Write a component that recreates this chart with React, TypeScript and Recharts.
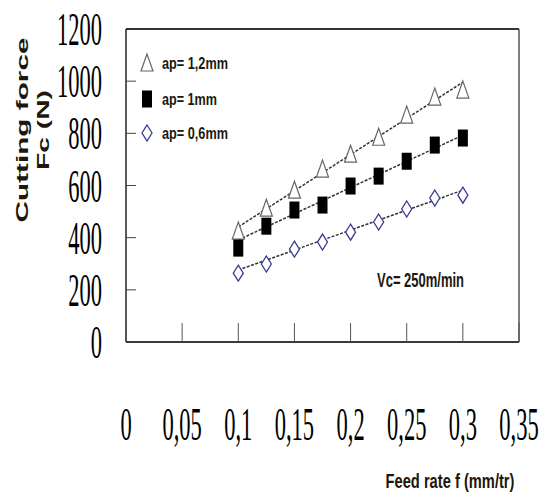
import React from 'react';
import { ComposedChart, XAxis, YAxis, Scatter, Line, ReferenceLine } from 'recharts';

const feeds = [0.1, 0.125, 0.15, 0.175, 0.2, 0.225, 0.25, 0.275, 0.3];
const fc12 = [425, 513, 582, 663, 720, 785, 870, 939, 966];
const fc10 = [360, 444, 506, 525, 598, 636, 693, 755, 782];
const fc06 = [264, 299, 356, 383, 421, 460, 510, 552, 563];

// dashed linear trend lines, end points
const trendFeeds = [0.1, 0.3];
const trend12 = [441, 996];
const trend10 = [391, 793];
const trend06 = [276, 582];

const xTicks = [0, 0.05, 0.1, 0.15, 0.2, 0.25, 0.3, 0.35];
const yTicks = [0, 200, 400, 600, 800, 1000, 1200];

const toRows = (xs: number[], ys: number[]) => xs.map((f, i) => ({ f, v: ys[i] }));

const SERIF = '"Liberation Serif", "Times New Roman", serif';
const SANS = '"Liberation Sans", Arial, sans-serif';
const INK = '#20170c';

const Triangle = ({ cx, cy }: any) => (
  <polygon
    points={`${cx},${cy - 9} ${cx - 6},${cy + 8} ${cx + 6},${cy + 8}`}
    fill="#fff"
    stroke="#666"
    strokeWidth={1.2}
  />
);

const Square = ({ cx, cy }: any) => <rect x={cx - 5} y={cy - 8.5} width={10} height={17} fill="#000" />;

const Diamond = ({ cx, cy }: any) => (
  <polygon
    points={`${cx},${cy - 8} ${cx + 5},${cy} ${cx},${cy + 8} ${cx - 5},${cy}`}
    fill="#fff"
    stroke="#3b3b94"
    strokeWidth={1.3}
  />
);

const XTick = ({ x, y, payload }: any) => (
  <g>
    <line x1={x} y1={y - 19} x2={x} y2={y} stroke="#555" strokeWidth={1} />
    <g transform={`translate(${x},${y + 98}) scale(1,2.1)`}>
      <text x={0} y={0} textAnchor="middle" fontFamily={SERIF} fontSize={22.5} fill="#000">
        {String(payload.value).replace('.', ',')}
      </text>
    </g>
  </g>
);

const YTick = ({ x, y, payload }: any) => (
  <g>
    {payload.value > 0 && payload.value < 1200 && (
      <line x1={x} y1={y} x2={x + 10} y2={y} stroke="#444" strokeWidth={1} />
    )}
    <g transform={`translate(${x - 24},${y + 16}) scale(1,2.1)`}>
      <text x={0} y={0} textAnchor="end" fontFamily={SERIF} fontSize={22.5} fill="#000">
        {payload.value}
      </text>
    </g>
  </g>
);

const YTitle = () => (
  <g fontFamily={SANS} fontWeight="bold" fill={INK}>
    <text
      transform="translate(28,130) rotate(-90)"
      textAnchor="middle"
      fontSize={17}
      textLength={185}
      lengthAdjust="spacingAndGlyphs"
    >
      Cutting force
    </text>
    <text
      transform="translate(49,130) rotate(-90)"
      textAnchor="middle"
      fontSize={17}
      textLength={80}
      lengthAdjust="spacingAndGlyphs"
    >
      Fc (N)
    </text>
  </g>
);

const legendItems = [
  { label: 'ap= 1,2mm', shape: Triangle, y: 63, len: 66 },
  { label: 'ap= 1mm', shape: Square, y: 99, len: 55 },
  { label: 'ap= 0,6mm', shape: Diamond, y: 133, len: 66 },
];

// legend, annotation and x-axis title drawn on top of the chart
const Overlay = () => (
  <svg
    width={548}
    height={497}
    style={{ position: 'absolute', left: 0, top: 0, pointerEvents: 'none' }}
  >
    {legendItems.map((it) => {
      const Shape = it.shape;
      return (
        <g key={it.label}>
          <Shape cx={147} cy={it.y} />
          <text
            x={162}
            y={it.y + 6}
            fontFamily={SANS}
            fontWeight="bold"
            fontSize={17}
            fill={INK}
            textLength={it.len}
            lengthAdjust="spacingAndGlyphs"
          >
            {it.label}
          </text>
        </g>
      );
    })}
    <text
      x={377}
      y={287}
      fontFamily={SANS}
      fontWeight="bold"
      fontSize={21}
      fill={INK}
      textLength={87}
      lengthAdjust="spacingAndGlyphs"
    >
      Vc= 250m/min
    </text>
    <g transform="translate(450,488) scale(0.7,1)">
      <text x={0} y={0} textAnchor="middle" fontFamily={SANS} fontWeight="bold" fontSize={21} fill={INK}>
        Feed rate f (mm/tr)
      </text>
    </g>
  </svg>
);

export default function App() {
  return (
    <div style={{ position: 'absolute', left: 0, top: 0, width: 548, height: 497, background: '#fff' }}>
      <ComposedChart width={548} height={497} margin={{ top: 29, right: 29, bottom: 125, left: 0 }}>
        <XAxis
          type="number"
          dataKey="f"
          domain={[0, 0.35]}
          ticks={xTicks}
          height={30}
          tickSize={0}
          tickMargin={0}
          tickLine={false}
          axisLine={{ stroke: '#3a3a3a', strokeWidth: 2 }}
          tick={<XTick />}
          allowDataOverflow
        />
        <YAxis
          type="number"
          domain={[0, 1200]}
          ticks={yTicks}
          width={126}
          tickSize={0}
          tickMargin={0}
          tickLine={false}
          axisLine={{ stroke: '#222', strokeWidth: 1.5 }}
          tick={<YTick />}
          label={<YTitle />}
          allowDataOverflow
        />
        <ReferenceLine y={1200} stroke="#333" strokeWidth={2} />
        <ReferenceLine x={0.35} stroke="#555" strokeWidth={1.5} />
        <Scatter data={toRows(feeds, fc12)} dataKey="v" shape={Triangle} isAnimationActive={false} />
        <Scatter data={toRows(feeds, fc10)} dataKey="v" shape={Square} isAnimationActive={false} />
        <Scatter data={toRows(feeds, fc06)} dataKey="v" shape={Diamond} isAnimationActive={false} />
        <Line data={toRows(trendFeeds, trend12)} dataKey="v" stroke="#333" strokeWidth={1.5} strokeDasharray="3 1.5" dot={false} isAnimationActive={false} />
        <Line data={toRows(trendFeeds, trend10)} dataKey="v" stroke="#333" strokeWidth={1.5} strokeDasharray="3 1.5" dot={false} isAnimationActive={false} />
        <Line data={toRows(trendFeeds, trend06)} dataKey="v" stroke="#333" strokeWidth={1.5} strokeDasharray="3 1.5" dot={false} isAnimationActive={false} />
      </ComposedChart>
      <Overlay />
    </div>
  );
}
